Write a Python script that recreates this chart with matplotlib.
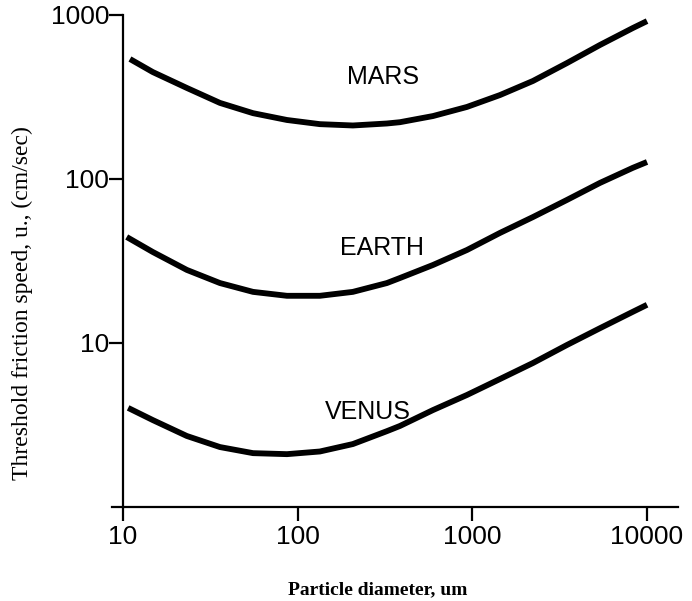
import matplotlib
matplotlib.use("Agg")
import matplotlib.pyplot as plt

# Particle diameter (um) and threshold friction speed (cm/sec)
mars_d = [10.96, 14.8, 23.2, 35.9, 55.5, 86.8, 134, 207, 324, 385, 595, 931,
          1439, 2222, 3476, 5370, 8294, 10000]
mars_u = [539, 449, 359, 291, 252, 229, 216, 212, 218, 222, 242, 275,
          325, 396, 509, 656, 833, 918]

earth_d = [10.5, 14.8, 23.2, 35.9, 55.5, 86.8, 134, 207, 324, 385, 595, 931,
           1439, 2222, 3476, 5370, 8294, 10000]
earth_u = [44.3, 35.9, 27.9, 23.2, 20.5, 19.4, 19.4, 20.5, 23.2, 24.9, 29.9, 36.9,
           46.9, 58.6, 74.5, 94.6, 117, 127]

venus_d = [10.7, 14.8, 23.2, 35.9, 55.5, 86.8, 134, 207, 324, 385, 595, 931,
           1439, 2222, 3476, 5370, 8294, 10000]
venus_u = [4.02, 3.39, 2.71, 2.32, 2.13, 2.10, 2.18, 2.42, 2.90, 3.12, 3.90, 4.82,
           6.03, 7.55, 9.72, 12.3, 15.5, 17.1]

labels = ["MARS", "EARTH", "VENUS"]
label_pos = [(308, 419), (304, 37.9), (252, 3.79)]

x_ticks = [10, 100, 1000, 10000]
x_ticklabels = ["10", "100", "1000", "10000"]
y_ticks = [10, 100, 1000]
y_ticklabels = ["10", "100", "1000"]

fig = plt.figure(figsize=(6.92, 6.01), dpi=100)
ax = fig.add_axes([112 / 692, (601 - 507) / 601, 566 / 692, 492 / 601])
ax.set_xscale("log")
ax.set_yscale("log")
ax.set_xlim(8.65, 15040)
ax.set_ylim(1, 1000)

for d, u in [(mars_d, mars_u), (earth_d, earth_u), (venus_d, venus_u)]:
    ax.plot(d, u, color="black", lw=4.2, solid_capstyle="butt", solid_joinstyle="round")

for t, (x, y) in zip(labels, label_pos):
    ax.text(x, y, t, ha="center", va="center", fontsize=18, family="Liberation Sans",
            color="black")

ax.spines["top"].set_visible(False)
ax.spines["right"].set_visible(False)
ax.spines["left"].set_position(("data", 10))
ax.spines["left"].set_linewidth(1.6)
ax.spines["bottom"].set_linewidth(1.6)

ax.set_xticks(x_ticks)
ax.set_xticklabels(x_ticklabels)
ax.set_yticks(y_ticks)
ax.set_yticklabels(y_ticklabels)
ax.minorticks_off()
ax.tick_params(axis="x", direction="out", length=10, width=1.6, pad=3, labelsize=19)
ax.tick_params(axis="y", direction="out", length=10, width=1.6, pad=0, labelsize=19)
for lab in ax.get_xticklabels() + ax.get_yticklabels():
    lab.set_family("Liberation Sans")

fig.text(22 / 692, 1 - 303 / 601, "Threshold friction speed, u., (cm/sec)",
         rotation=90, ha="center", va="center", fontsize=17, family="Liberation Serif")
fig.text(378 / 692, 1 - 590 / 601, "Particle diameter, um", ha="center", va="center",
         fontsize=14, family="Liberation Serif", fontweight="bold")

fig.savefig("out.png", dpi=100)
